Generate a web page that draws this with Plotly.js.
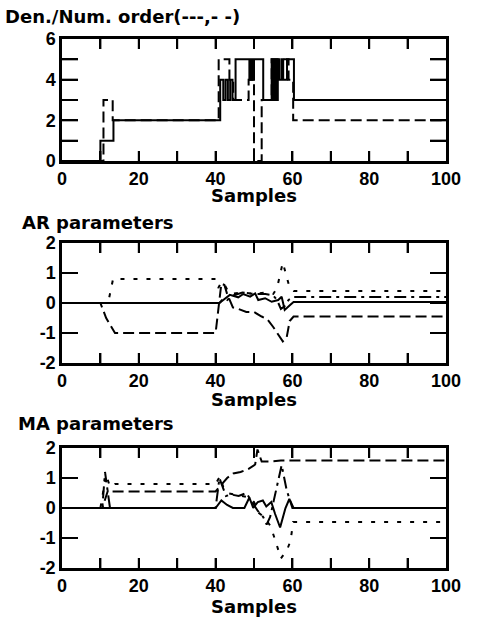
<!DOCTYPE html>
<html>
<head>
<meta charset="utf-8">
<script src="https://cdn.plot.ly/plotly-3.0.1.min.js"></script>
<style>html,body{margin:0;padding:0;background:#fff;}
#p1,#p2,#p3{position:absolute;left:0;width:478px;}
#p1{top:0;height:206px;} #p2{top:206px;height:204px;} #p3{top:410px;height:210px;}
.ttl{position:absolute;font-family:'DejaVu Sans',sans-serif;font-weight:bold;font-size:18px;line-height:22px;height:22px;color:#000;white-space:nowrap;z-index:5;}</style>
</head>
<body>
<div id="p1"></div><div id="p2"></div><div id="p3"></div>
<div class="ttl" id="t1" style="left:5px;top:6px;"></div>
<div class="ttl" id="t2" style="left:22px;top:212px;"></div>
<div class="ttl" id="t3" style="left:18px;top:413px;"></div>
<script>
// ---- Panel 1: Den./Num. order (step lines) ----
const denX = [0,10,13.4,41.2,42,42.6,43.2,43.8,44.4,45.2,48.8,49.2,49.6,50,52.4,54.6,55,55.4,55.8,56.2,56.6,57.2,57.6,58.6,60.4,100];
const denY = [0,1,2,4,3,4,3,4,3,5,4,5,4,5,3,5,3,5,3,5,4,5,4,5,3,3];
const numX = [0,10.8,13.2,40.8,43.6,44.6,48.6,50,52,54.6,59,60.2,100];
const numY = [0,3,2,5,4,3,4,0,3,5,4,2,2];

// ---- Panel 2: AR parameters ----
const arSolidX = [0,41,42,43.7,45.9,47.2,49,50.3,51.1,52.9,54.6,56.3,57.2,58,59.4,60.3,100];
const arSolidY = [0,0,0.1,0.27,0.19,0.3,0.21,0.32,0.1,0.16,0.04,0.1,0.21,-0.23,-0.07,0.03,0.03];
const arDashX = [0,10,11.5,13.8,40,40.8,41.5,42.3,43,44.5,46,48,50,52,53.5,55,56.5,57.5,58.5,59.3,60.3,100];
const arDashY = [0,0,-0.5,-1,-1,0,0.65,0.6,0.3,-0.15,-0.2,-0.3,-0.3,-0.45,-0.55,-0.8,-1.1,-1.28,-1.15,-0.6,-0.45,-0.45];
const arDotX = [0,12,13.3,40,40.7,41.5,42.2,43,44,47,50,53,55,56,57.5,58.5,59.3,60.3,100];
const arDotY = [0,0,0.8,0.8,0.5,0.7,0.65,0.45,0.3,0.35,0.3,0.35,0.3,0.5,1.35,0.9,0.5,0.4,0.4];
const arDashDotX = [0,41,42,43,44.5,47,50,53,55,56,57,58,59,60.3,100];
const arDashDotY = [0,0,0.15,0.1,0.25,0.35,0.3,0.3,0.25,0.1,-0.2,-0.1,0.1,0.2,0.2];

// ---- Panel 3: MA parameters ----
const maSolidX = [0,40,41.5,43,44.5,47.5,48.8,49.8,51,52.3,53.2,54.5,55.5,56.8,58.2,59.2,60.3,100];
const maSolidY = [0,0,0.25,0.1,0,0,0.35,0,0.2,0.25,0.05,0.2,-0.2,-0.65,0,0.3,0,0];
const maDashX = [0,10.5,12,13,40,41.6,43,44.6,46.5,48.5,50.3,50.9,52,54,57,60,100];
const maDashY = [0,0,0.6,0.55,0.55,0.8,1.0,1.15,1.2,1.3,1.45,1.95,1.55,1.55,1.58,1.58,1.58];
const maDotX = [0,10,11.5,12.5,13.8,40,41.1,42,43,45,47,49,50,51.3,52.6,54.3,55.6,57,58.6,59.5,60.2,100];
const maDotY = [0,0,1.12,0.7,0.8,0.8,1.05,0.7,0.5,0.45,0.4,0.35,0.2,-0.17,-0.3,-0.6,-1.1,-1.68,-1.4,-1.1,-0.47,-0.47];
const maDashDotX = [0,10.5,11.2,12,12.5,40,41,42.7,44,46,48,49.5,51,52.4,53.3,54.2,55.5,57.2,58.5,60,100];
const maDashDotY = [0,0,1.2,0.5,0,0,1.0,0.4,0.45,0.4,0.5,0.2,-0.1,-0.3,-0.55,-0.3,0.5,1.43,0.6,0,0];

// ---- Ticks and labels ----
const xTickVals = [0,10,20,30,40,50,60,70,80,90,100];
const xTickText = ['0','','20','','40','','60','','80','','100'];
const y1TickVals = [0,1,2,3,4,5,6];
const y1TickText = ['0','','2','','4','','6'];
const y2TickVals = [-2,-1,0,1,2];
const y2TickText = ['-2','-1','0','1','2'];
const panelTitles = ['Den./Num. order(---,- -)','AR parameters','MA parameters'];
const xTitle = 'Samples';

document.getElementById('t1').textContent = panelTitles[0];
document.getElementById('t2').textContent = panelTitles[1];
document.getElementById('t3').textContent = panelTitles[2];

const DASH = '11px,5px', DOT = '4px,9px', DASHDOT = '12px,5px,3px,5px';
function tr(x, y, dash, shape) {
  return {x: x, y: y, type: 'scatter', mode: 'lines',
    line: {color: '#000', width: 2, dash: dash, shape: shape || 'linear'}};
}
const tickFont = {family: 'Liberation Sans, Arial, sans-serif', size: 18, color: '#000', weight: 'bold'};
const titleFont = {family: 'DejaVu Sans, sans-serif', size: 18, color: '#000', weight: 'bold'};

// inward tick marks on all four sides, built from the tick arrays as one line trace
function tickTrace(yVals, yRange, plotH) {
  const xr = [0, 100];
  const dy = (yRange[1] - yRange[0]) * 10 / plotH;   // 10 px tall x-ticks
  const dx = (xr[1] - xr[0]) * 16 / 384;              // 16 px long y-ticks
  const X = [], Y = [];
  xTickVals.forEach(function (v) {
    if (v <= xr[0] || v >= xr[1]) return;
    X.push(v, v, null, v, v, null);
    Y.push(yRange[0], yRange[0] + dy, null, yRange[1], yRange[1] - dy, null);
  });
  yVals.forEach(function (v) {
    if (v <= yRange[0] || v >= yRange[1]) return;
    X.push(xr[0], xr[0] + dx, null, xr[1], xr[1] - dx, null);
    Y.push(v, v, null, v, v, null);
  });
  return {x: X, y: Y, type: 'scatter', mode: 'lines', connectgaps: false,
    line: {color: '#000', width: 2}, hoverinfo: 'skip'};
}

function makeLayout(h, t, b, yRange, yVals, yText) {
  return {
    width: 478, height: h, showlegend: false,
    margin: {l: 62, r: 32, t: t, b: b},
    xaxis: {range: [0, 100], tickmode: 'array', tickvals: xTickVals, ticktext: xTickText,
      ticks: 'inside', ticklen: 10, tickwidth: 2, tickcolor: '#000', showline: true, linewidth: 2.5,
      linecolor: '#000', mirror: 'allticks', showgrid: false, zeroline: false, tickfont: tickFont,
      title: {text: xTitle, font: titleFont, standoff: 1}},
    yaxis: {range: yRange, tickmode: 'array', tickvals: yVals, ticktext: yText,
      ticks: 'inside', ticklen: 16, tickwidth: 2, tickcolor: '#000', showline: true, linewidth: 2.5,
      linecolor: '#000', mirror: 'allticks', showgrid: false, zeroline: false, tickfont: tickFont}
  };
}
const cfg = {displayModeBar: false};
Plotly.newPlot('p1', [tr(numX, numY, DASH, 'hv'), tr(denX, denY, 'solid', 'hv'), tickTrace(y1TickVals, [0, 6], 122)],
  makeLayout(206, 39, 45, [0, 6], y1TickVals, y1TickText), cfg);
Plotly.newPlot('p2', [tr(arDashX, arDashY, DASH), tr(arDotX, arDotY, DOT), tr(arDashDotX, arDashDotY, DASHDOT), tr(arSolidX, arSolidY, 'solid'), tickTrace(y2TickVals, [-2, 2], 120)],
  makeLayout(204, 37, 47, [-2, 2], y2TickVals, y2TickText), cfg);
Plotly.newPlot('p3', [tr(maDashX, maDashY, DASH), tr(maDotX, maDotY, DOT), tr(maDashDotX, maDashDotY, DASHDOT), tr(maSolidX, maSolidY, 'solid'), tickTrace(y2TickVals, [-2, 2], 120)],
  makeLayout(210, 38, 52, [-2, 2], y2TickVals, y2TickText), cfg);
</script>
</body>
</html>
